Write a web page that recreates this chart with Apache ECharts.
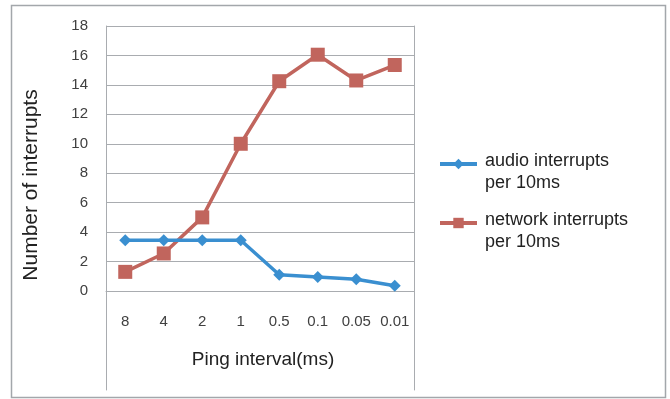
<!DOCTYPE html>
<html>
<head>
<meta charset="utf-8">
<script src="https://cdn.jsdelivr.net/npm/echarts@6/dist/echarts.min.js"></script>
<style>
  html, body { margin: 0; padding: 0; background: #fff; }
  #chart { width: 670px; height: 399px; }
</style>
</head>
<body>
<div id="chart"></div>
<script>
// Ping interval categories (ms) and interrupt counts per 10ms
const pingIntervals = ['8', '4', '2', '1', '0.5', '0.1', '0.05', '0.01'];
const audioInterrupts = [3.45, 3.45, 3.45, 3.45, 1.1, 0.95, 0.8, 0.35];
const networkInterrupts = [1.3, 2.55, 5.0, 10.0, 14.25, 16.05, 14.3, 15.35];
const yTicks = { min: 0, max: 18, step: 2 };
const seriesNames = ['audio interrupts\nper 10ms', 'network interrupts\nper 10ms'];

const FONT = '"Liberation Sans", Arial, sans-serif';
const GRID_LINE = '#a9acb0';
const BLUE = '#3a8fd0';
const RED = '#c1655d';

const chart = echarts.init(document.getElementById('chart'), null, { renderer: 'canvas' });

chart.setOption({
  backgroundColor: '#ffffff',
  animation: false,
  textStyle: { fontFamily: FONT },
  graphic: [{
    type: 'rect',
    shape: { x: 11.5, y: 5.5, width: 654, height: 392 },
    style: { fill: 'none', stroke: '#a3a7ab', lineWidth: 1.5 },
    silent: true,
    z: -1
  }],
  legend: {
    orient: 'vertical',
    left: 433,
    top: 132,
    itemGap: 4,
    itemWidth: 37,
    itemHeight: 13,
    lineStyle: { width: 4 },
    // a thin spacer line on top keeps the icon level with the first text line
    formatter: function (name) {
      const lines = name.split('\n');
      return '{pad| }\n' + lines.map(function (l) { return '{t|' + l + '}'; }).join('\n');
    },
    textStyle: {
      fontFamily: FONT,
      fontSize: 18,
      color: '#222222',
      rich: {
        pad: { fontSize: 10, lineHeight: 16 },
        t: { fontFamily: FONT, fontSize: 18, lineHeight: 22, color: '#222222', padding: [0, 0, 0, 3] }
      }
    },
    data: seriesNames
  },
  grid: [
    { left: 106, right: 256, top: 26, bottom: 108, containLabel: false },
    { left: 106, right: 256, top: 26, bottom: 9, containLabel: false }
  ],
  xAxis: [{
    type: 'category',
    gridIndex: 0,
    data: pingIntervals,
    boundaryGap: true,
    axisLine: { show: true, lineStyle: { color: GRID_LINE, width: 1 } },
    axisTick: { show: false },
    axisLabel: { color: '#404040', fontSize: 15, margin: 23, fontFamily: FONT },
    name: 'Ping interval(ms)',
    nameLocation: 'middle',
    nameGap: 59,
    nameTextStyle: { color: '#222222', fontSize: 19, fontFamily: FONT, padding: [0, 0, 0, 6] }
  }, {
    type: 'category',
    gridIndex: 1,
    data: pingIntervals,
    show: false
  }],
  yAxis: [{
    type: 'value',
    gridIndex: 0,
    min: yTicks.min,
    max: yTicks.max,
    interval: yTicks.step,
    axisLine: { show: false },
    axisTick: { show: false },
    splitLine: { show: true, lineStyle: { color: GRID_LINE, width: 1 } },
    axisLabel: { color: '#404040', fontSize: 15, margin: 18, fontFamily: FONT },
    name: 'Number of interrupts',
    nameLocation: 'middle',
    nameGap: 64,
    nameTextStyle: { color: '#222222', fontSize: 21, fontFamily: FONT, padding: [0, 53, 0, 0] }
  }, {
    // left and right frame lines running down past the category labels
    type: 'value',
    gridIndex: 1,
    position: 'left',
    axisLine: { show: true, onZero: false, lineStyle: { color: GRID_LINE, width: 1 } },
    axisTick: { show: false },
    axisLabel: { show: false },
    splitLine: { show: false }
  }, {
    type: 'value',
    gridIndex: 1,
    position: 'right',
    axisLine: { show: true, onZero: false, lineStyle: { color: GRID_LINE, width: 1 } },
    axisTick: { show: false },
    axisLabel: { show: false },
    splitLine: { show: false }
  }],
  series: [{
    name: seriesNames[0],
    type: 'line',
    xAxisIndex: 0,
    yAxisIndex: 0,
    data: audioInterrupts,
    symbol: 'diamond',
    symbolSize: 12,
    lineStyle: { color: BLUE, width: 3.5 },
    itemStyle: { color: BLUE },
    z: 3
  }, {
    name: seriesNames[1],
    type: 'line',
    xAxisIndex: 0,
    yAxisIndex: 0,
    data: networkInterrupts,
    symbol: 'rect',
    symbolSize: 14,
    lineStyle: { color: RED, width: 3.5 },
    itemStyle: { color: RED },
    z: 2
  }]
});
</script>
</body>
</html>
